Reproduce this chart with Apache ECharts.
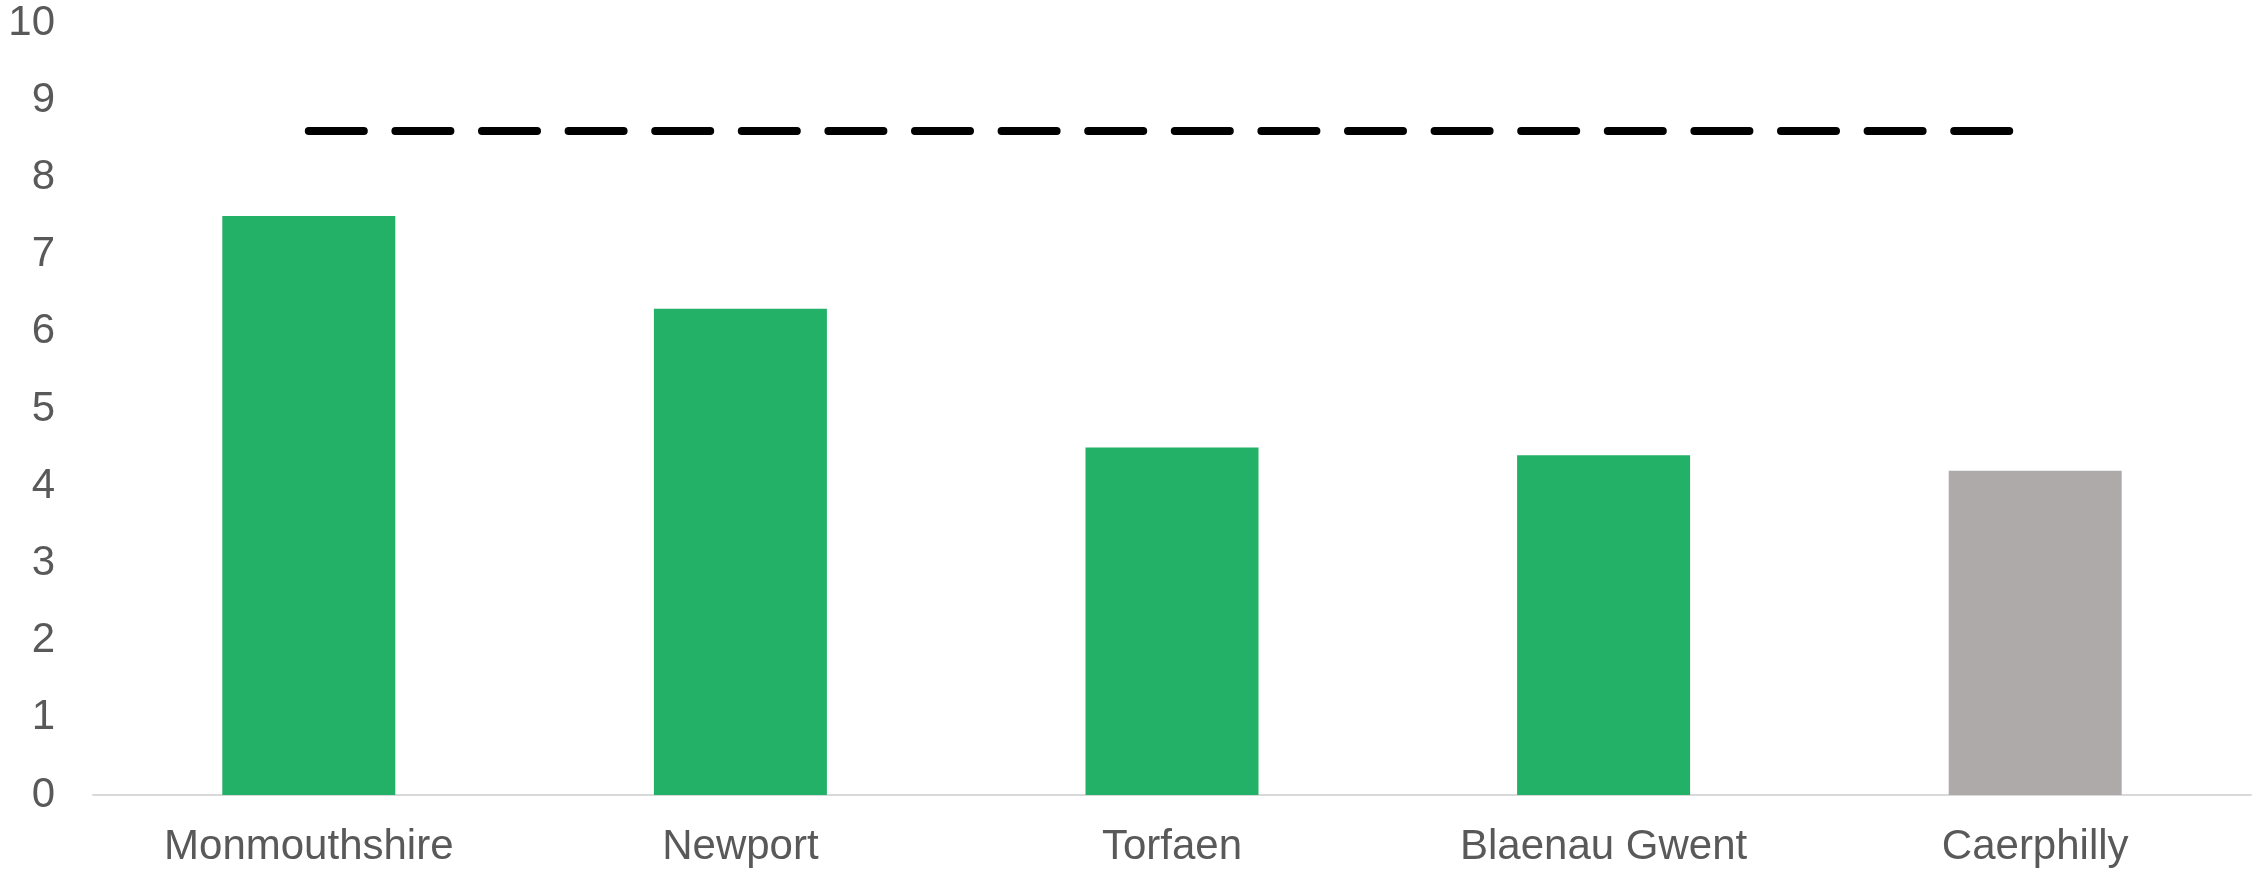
<!DOCTYPE html>
<html>
<head>
<meta charset="utf-8">
<script src="https://cdn.jsdelivr.net/npm/echarts@6/dist/echarts.min.js"></script>
<style>html,body{margin:0;padding:0;background:#fff}#c{width:2264px;height:872px}</style>
</head>
<body>
<div id="c"></div>
<script>
const categories = ['Monmouthshire', 'Newport', 'Torfaen', 'Blaenau Gwent', 'Caerphilly'];
const values = [7.5, 6.3, 4.5, 4.4, 4.2];
const barColors = ['#23B067', '#23B067', '#23B067', '#23B067', '#AEAAAA'];
const referenceValue = 8.6;
const referenceLine = categories.map(() => referenceValue);
const yTicks = [0, 1, 2, 3, 4, 5, 6, 7, 8, 9, 10];

const chart = echarts.init(document.getElementById('c'), null, {renderer: 'canvas'});
chart.setOption({
  animation: false,
  backgroundColor: '#ffffff',
  grid: {left: 93, right: 13, top: 23, bottom: 77, containLabel: false, outerBoundsMode: 'none'},
  xAxis: {
    type: 'category',
    data: categories,
    axisLine: {show: true, lineStyle: {color: '#d9d9d9', width: 2}},
    axisTick: {show: false},
    axisLabel: {color: '#595959', fontSize: 42, fontFamily: 'Liberation Sans, Arial, sans-serif', margin: 31, interval: 0}
  },
  yAxis: {
    type: 'value',
    min: yTicks[0],
    max: yTicks[yTicks.length - 1],
    interval: 1,
    axisLine: {show: false},
    axisTick: {show: false},
    splitLine: {show: false},
    axisLabel: {color: '#595959', fontSize: 42, fontFamily: 'Liberation Sans, Arial, sans-serif', margin: 38, lineHeight: 42, padding: [8, 0, 0, 0]}
  },
  series: [
    {
      type: 'bar',
      barWidth: 173,
      data: values.map((v, i) => ({value: v, itemStyle: {color: barColors[i]}}))
    },
    {
      type: 'line',
      data: referenceLine,
      symbol: 'none',
      lineStyle: {color: '#000000', width: 8, type: [55, 31.6], cap: 'round'},
      z: 3
    }
  ]
});
</script>
</body>
</html>
